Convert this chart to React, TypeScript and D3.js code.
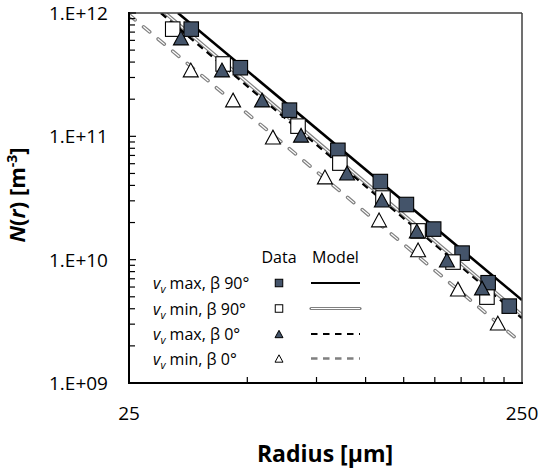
import React from 'react';
import * as d3 from 'd3';

// Data (radius in μm, N in m^-3)
const maxB90R = [36, 48, 64, 85, 109, 127, 149, 176, 205, 232];
const maxB90N = [7.4e11, 3.6e11, 1.63e11, 7.7e10, 4.3e10, 2.8e10, 1.77e10, 1.13e10, 6.5e9, 4.2e9];
const minB90R = [32.3, 43.4, 67.3, 86, 110.7, 136, 166.9, 203.6];
const minB90N = [7.4e11, 3.86e11, 1.21e11, 6.07e10, 3.16e10, 1.71e10, 9.56e9, 4.97e9];
const maxB0R = [33.9, 43.1, 54.5, 68.5, 89.7, 110, 135, 161, 197.8];
const maxB0N = [6.27e11, 3.45e11, 1.97e11, 1.02e11, 5.04e10, 3.04e10, 1.71e10, 9.93e9, 5.89e9];
const minB0R = [35.9, 46, 58.1, 78.8, 108.2, 136, 171.8, 217];
const minB0N = [3.45e11, 1.97e11, 9.87e10, 4.68e10, 2.1e10, 1.2e10, 5.78e9, 3.06e9];

// Model lines (end points)
const modelMax90R = [33.3, 250];
const modelMax90N = [1e12, 4.7e9];
const modelMin90R = [30.9, 250];
const modelMin90N = [1e12, 3.56e9];
const modelMax0R = [30.15, 250];
const modelMax0N = [1e12, 3.36e9];
const modelMin0R = [25, 250];
const modelMin0N = [9.7e11, 2.1e9];

// Axes
const yMajor = [1e9, 1e10, 1e11, 1e12];
const yLabels = ['1.E+09', '1.E+10', '1.E+11', '1.E+12'];
const xLabelVals = [25, 250];
const xLabels = ['25', '250'];
const xMinor = [50, 75, 100, 125, 150, 175, 200, 225];

const legendRows = [
  { txt: ' max, β 90°', marker: 'fsq', line: 'solid' },
  { txt: ' min, β 90°', marker: 'osq', line: 'double' },
  { txt: ' max, β 0°', marker: 'ftri', line: 'dash' },
  { txt: ' min, β 0°', marker: 'otri', line: 'ddash' },
];

const FILL = '#44546A';
const GRAY = '#808080';
const FONT = '"Open Sans", "Noto Sans", sans-serif';

const L = 129, R = 522, T = 13, B = 383;

export default function App() {
  const x = d3.scaleLog().domain([25, 250]).range([L, R]);
  const y = d3.scaleLog().domain([1e9, 1e12]).range([B, T]);
  const line = d3.line<[number, number]>().x(d => x(d[0])).y(d => y(d[1]));
  const zip = (a: number[], b: number[]) => a.map((v, i) => [v, b[i]] as [number, number]);

  const yMinor: number[] = [];
  for (let e = 9; e < 12; e++) for (let k = 2; k <= 9; k++) yMinor.push(k * Math.pow(10, e));

  const sq = (cx: number, cy: number, s: number, fill: string, key: string, sw = 1.1) => (
    <rect key={key} x={cx - s / 2} y={cy - s / 2} width={s} height={s} fill={fill} stroke="#000" strokeWidth={sw} />
  );
  const tri = (cx: number, cy: number, w: number, fill: string, key: string, sw = 1.1) => {
    const h = w * 0.92;
    return (
      <path key={key} d={`M${cx},${cy - h / 2}L${cx + w / 2},${cy + h / 2}L${cx - w / 2},${cy + h / 2}Z`} fill={fill} stroke="#000" strokeWidth={sw} strokeLinejoin="miter" />
    );
  };

  const lMax90 = line(zip(modelMax90R, modelMax90N)) || '';
  const lMin90 = line(zip(modelMin90R, modelMin90N)) || '';
  const lMax0 = line(zip(modelMax0R, modelMax0N)) || '';
  const lMin0 = line(zip(modelMin0R, modelMin0N)) || '';

  const rowY = [283, 308.5, 334, 358.5];
  const lx0 = 311, lx1 = 360, mx = 279;

  return (
    <svg width={539} height={471} style={{ position: 'absolute', left: 0, top: 0, background: '#fff' }} fontFamily={FONT}>
      <defs>
        <clipPath id="plot">
          <rect x={L} y={T} width={R - L} height={B - T} />
        </clipPath>
      </defs>
      <rect x={0} y={0} width={539} height={471} fill="#fff" />

      {/* model lines */}
      <g clipPath="url(#plot)" fill="none">
        <path d={lMin0} stroke={GRAY} strokeWidth={3.6} strokeDasharray="8,11" strokeLinecap="round" />
        <path d={lMin0} stroke="#fff" strokeWidth={1.2} strokeDasharray="8,11" strokeLinecap="round" />
        <path d={lMax0} stroke="#000" strokeWidth={2.6} strokeDasharray="7,5" />
        <path d={lMin90} stroke={GRAY} strokeWidth={3.6} />
        <path d={lMin90} stroke="#fff" strokeWidth={1.2} />
        <path d={lMax90} stroke="#000" strokeWidth={2.6} />
      </g>

      {/* markers */}
      <g>
        {maxB90R.map((r, i) => sq(x(r), y(maxB90N[i]), 14.5, FILL, 'a' + i))}
        {minB90R.map((r, i) => sq(x(r), y(minB90N[i]), 14.5, '#fff', 'b' + i))}
        {maxB0R.map((r, i) => tri(x(r), y(maxB0N[i]), 15, FILL, 'c' + i))}
        {minB0R.map((r, i) => tri(x(r), y(minB0N[i]), 15, '#fff', 'd' + i))}
      </g>

      {/* frame */}
      <line x1={L} y1={T} x2={R} y2={T} stroke="#404040" strokeWidth={1.5} />
      <line x1={R} y1={T} x2={R} y2={B} stroke="#404040" strokeWidth={1.5} />
      <line x1={L} y1={T - 1} x2={L} y2={B + 1} stroke="#000" strokeWidth={2} />
      <line x1={L - 1} y1={B} x2={R + 1} y2={B} stroke="#000" strokeWidth={2} />

      {/* y ticks */}
      {yMinor.map((v, i) => (
        <line key={'ym' + i} x1={L} x2={L + 6} y1={y(v)} y2={y(v)} stroke="#000" strokeWidth={1.2} />
      ))}
      {yMajor.map((v, i) => (
        <g key={'yM' + i}>
          <line x1={L} x2={L + 7} y1={y(v)} y2={y(v)} stroke="#000" strokeWidth={1.2} />
          <text x={108} y={y(v)} dy="0.36em" textAnchor="end" fontSize={19} fill="#000">{yLabels[i]}</text>
        </g>
      ))}

      {/* x ticks */}
      {xMinor.map((v, i) => (
        <line key={'xm' + i} x1={x(v)} x2={x(v)} y1={B} y2={B - 6} stroke="#000" strokeWidth={1.2} />
      ))}
      {xLabelVals.map((v, i) => (
        <text key={'xl' + i} x={x(v)} y={420} textAnchor="middle" fontSize={19} fill="#000">{xLabels[i]}</text>
      ))}

      {/* axis titles */}
      <text x={325} y={462} textAnchor="middle" fontSize={23} fontWeight="bold" fill="#000">Radius [μm]</text>
      <text transform="translate(25,195) rotate(-90)" textAnchor="middle" fontSize={22} fontWeight="bold" fill="#000">
        <tspan fontStyle="italic">N</tspan>(<tspan fontStyle="italic">r</tspan>) [m<tspan fontSize={14} dy={-8}>-3</tspan><tspan dy={8}>]</tspan>
      </text>

      {/* legend */}
      <text x={mx} y={263} textAnchor="middle" fontSize={16} fill="#000">Data</text>
      <text x={(lx0 + lx1) / 2} y={263} textAnchor="middle" fontSize={16} fill="#000">Model</text>
      {legendRows.map((row, i) => {
        const cy = rowY[i];
        return (
          <g key={'lg' + i}>
            <text x={153} y={cy + 6} fontSize={16} fill="#000">
              <tspan fontStyle="italic">v</tspan>
              <tspan fontStyle="italic" fontSize={11} dy={4}>v</tspan>
              <tspan dy={-4}>{row.txt}</tspan>
            </text>
            {row.marker === 'fsq' && sq(mx, cy, 7.5, FILL, 'm', 1)}
            {row.marker === 'osq' && sq(mx, cy, 7.5, '#fff', 'm', 1)}
            {row.marker === 'ftri' && tri(mx, cy, 8, FILL, 'm', 1)}
            {row.marker === 'otri' && tri(mx, cy, 8, '#fff', 'm', 1)}
            {row.line === 'solid' && <line x1={lx0} x2={lx1} y1={cy} y2={cy} stroke="#000" strokeWidth={2.2} />}
            {row.line === 'double' && (
              <g>
                <line x1={lx0} x2={lx1} y1={cy} y2={cy} stroke={GRAY} strokeWidth={3.2} strokeLinecap="round" />
                <line x1={lx0} x2={lx1} y1={cy} y2={cy} stroke="#fff" strokeWidth={1} />
              </g>
            )}
            {row.line === 'dash' && <line x1={lx0} x2={lx1} y1={cy} y2={cy} stroke="#000" strokeWidth={2.2} strokeDasharray="6.5,5.5" />}
            {row.line === 'ddash' && <line x1={lx0} x2={lx1} y1={cy} y2={cy} stroke={GRAY} strokeWidth={2.6} strokeDasharray="6.5,5.5" />}
          </g>
        );
      })}
    </svg>
  );
}
